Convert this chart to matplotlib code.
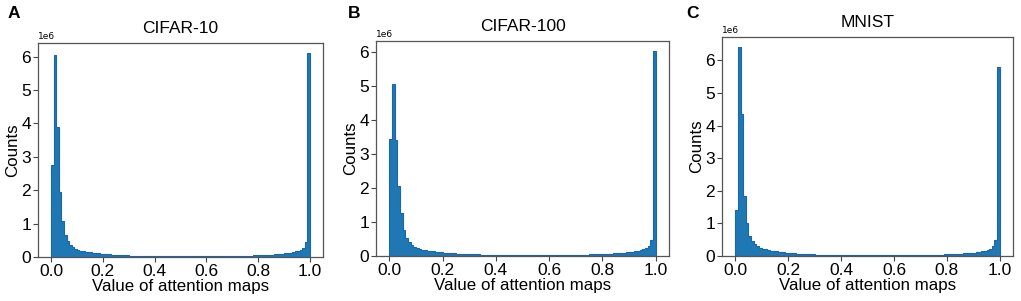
import numpy as np
import matplotlib.pyplot as plt
from matplotlib.ticker import MultipleLocator

plt.rcParams['font.family'] = ['Liberation Sans', 'DejaVu Sans']

# histogram counts (x 1e6) for 100 bins of width 0.01 on [0, 1]
cifar10 = [
    2.76, 6.05, 3.90, 1.95, 1.07, 0.65, 0.47, 0.36, 0.29, 0.24,
    0.21, 0.19, 0.17, 0.155, 0.145, 0.135, 0.125, 0.115, 0.105, 0.10,
    0.092, 0.085, 0.078, 0.072, 0.066, 0.061, 0.057, 0.053, 0.050, 0.047,
    0.044, 0.042, 0.040, 0.038, 0.036, 0.035, 0.034, 0.033, 0.032, 0.031,
    0.030, 0.029, 0.029, 0.028, 0.028, 0.027, 0.027, 0.027, 0.026, 0.026,
    0.026, 0.026, 0.026, 0.026, 0.026, 0.026, 0.026, 0.026, 0.026, 0.026,
    0.027, 0.027, 0.027, 0.028, 0.028, 0.029, 0.029, 0.030, 0.031, 0.032,
    0.033, 0.034, 0.035, 0.036, 0.038, 0.040, 0.042, 0.044, 0.046, 0.049,
    0.052, 0.055, 0.059, 0.063, 0.067, 0.072, 0.077, 0.083, 0.09, 0.098,
    0.107, 0.117, 0.13, 0.145, 0.165, 0.19, 0.22, 0.28, 0.45, 6.10,
]
cifar100 = [
    3.43, 5.06, 3.40, 2.05, 1.25, 0.77, 0.53, 0.40, 0.32, 0.27,
    0.24, 0.21, 0.19, 0.175, 0.16, 0.15, 0.14, 0.13, 0.12, 0.11,
    0.102, 0.095, 0.088, 0.082, 0.076, 0.071, 0.066, 0.062, 0.058, 0.055,
    0.052, 0.049, 0.047, 0.045, 0.043, 0.041, 0.040, 0.038, 0.037, 0.036,
    0.035, 0.034, 0.033, 0.033, 0.032, 0.032, 0.031, 0.031, 0.031, 0.030,
    0.030, 0.030, 0.030, 0.030, 0.030, 0.030, 0.030, 0.030, 0.030, 0.030,
    0.031, 0.031, 0.031, 0.032, 0.032, 0.033, 0.033, 0.034, 0.035, 0.036,
    0.037, 0.038, 0.039, 0.041, 0.043, 0.045, 0.047, 0.049, 0.052, 0.055,
    0.058, 0.061, 0.065, 0.069, 0.074, 0.079, 0.085, 0.092, 0.10, 0.108,
    0.117, 0.128, 0.14, 0.155, 0.175, 0.20, 0.24, 0.30, 0.47, 6.02,
]
mnist = [
    1.42, 6.40, 4.35, 1.83, 1.02, 0.62, 0.47, 0.38, 0.31, 0.26,
    0.23, 0.20, 0.18, 0.165, 0.15, 0.14, 0.13, 0.12, 0.11, 0.10,
    0.092, 0.085, 0.078, 0.072, 0.066, 0.061, 0.057, 0.053, 0.050, 0.047,
    0.044, 0.042, 0.040, 0.038, 0.036, 0.035, 0.034, 0.033, 0.032, 0.031,
    0.030, 0.029, 0.029, 0.028, 0.028, 0.027, 0.027, 0.027, 0.026, 0.026,
    0.026, 0.026, 0.026, 0.026, 0.026, 0.026, 0.026, 0.026, 0.026, 0.026,
    0.027, 0.027, 0.027, 0.028, 0.028, 0.029, 0.029, 0.030, 0.031, 0.032,
    0.033, 0.034, 0.035, 0.036, 0.038, 0.040, 0.042, 0.044, 0.046, 0.049,
    0.052, 0.055, 0.059, 0.063, 0.067, 0.072, 0.077, 0.083, 0.09, 0.098,
    0.107, 0.117, 0.13, 0.145, 0.165, 0.19, 0.23, 0.30, 0.50, 5.80,
]

titles = ['CIFAR-10', 'CIFAR-100', 'MNIST']
letters = ['A', 'B', 'C']
datasets = [cifar10, cifar100, mnist]

edges = np.linspace(0, 1, 101)
centers = (edges[:-1] + edges[1:]) / 2

fig = plt.figure(figsize=(10.21, 3.01), dpi=100)
W, H = 1021, 301
# axes boxes in pixels: left, right, top, bottom
boxes = [(38, 323, 43, 257), (376, 669, 41, 256), (722, 1013, 37, 256)]
letter_x = [8, 348, 686]

for i, (d, t, b) in enumerate(zip(datasets, titles, boxes)):
    l, r, top, bot = b
    ax = fig.add_axes([l / W, 1 - bot / H, (r - l) / W, (bot - top) / H])
    ax.hist(centers, bins=edges, weights=np.array(d) * 1e6,
            histtype='stepfilled', color='#1f77b4', edgecolor='#1a66a8', linewidth=0.8)
    ax.set_title(t, fontsize=12.5, pad=7)
    ax.set_xlabel('Value of attention maps', fontsize=12.2, labelpad=0)
    ax.set_ylabel('Counts', fontsize=12.2, labelpad=1)
    ax.set_xticks([0.0, 0.2, 0.4, 0.6, 0.8, 1.0])
    ax.yaxis.set_major_locator(MultipleLocator(1e6))
    ax.tick_params(labelsize=12.5, length=3.5, pad=1.5, color='#444444')
    ax.yaxis.get_offset_text().set_fontsize(6.5)
    ax.yaxis.get_offset_text().set_family('DejaVu Sans')
    for s in ax.spines.values():
        s.set_color('#555555')
        s.set_linewidth(0.9)
    fig.text(letter_x[i] / W, 1 - 14 / H, letters[i], fontsize=12.5,
             fontweight='bold', va='center', ha='left')

fig.savefig('out.png', dpi=100)
